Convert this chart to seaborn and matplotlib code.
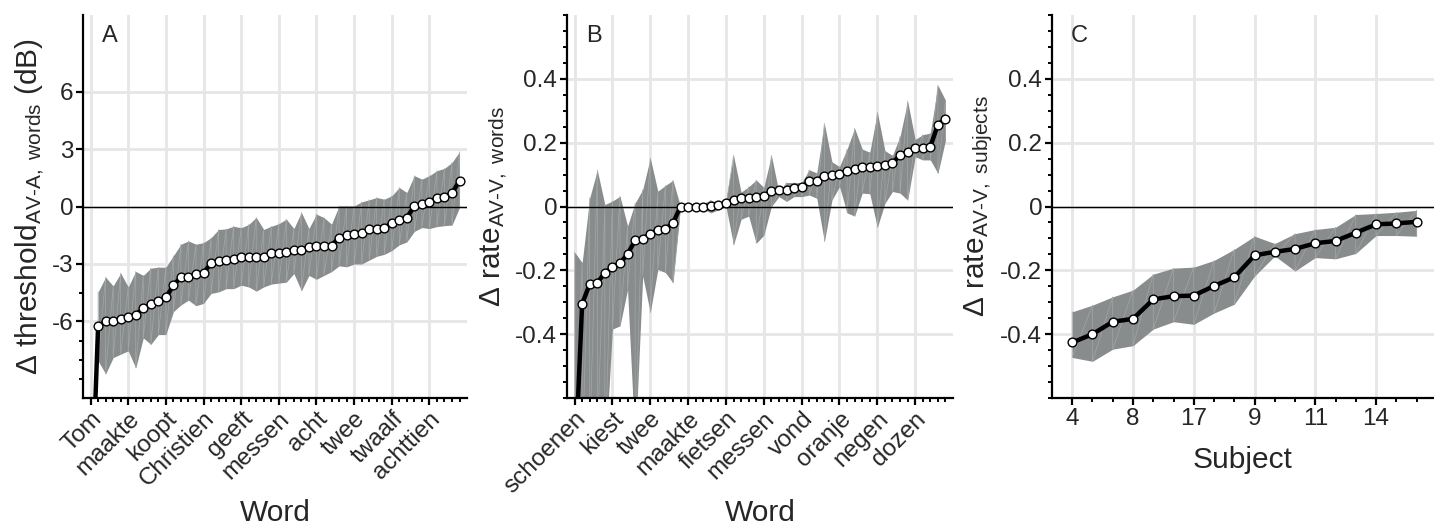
import numpy as np
import pandas as pd
import matplotlib
matplotlib.use("Agg")
import matplotlib.pyplot as plt
import seaborn as sns
from matplotlib.ticker import FixedLocator, MultipleLocator


# panel A: threshold difference per word (dB), sorted
a_mean = [-17.0, -6.25, -6.0, -6.0, -5.88, -5.78, -5.65, -5.32, -5.1, -4.92,
          -4.75, -4.12, -3.68, -3.67, -3.54, -3.48, -2.95, -2.86, -2.8, -2.74,
          -2.65, -2.65, -2.64, -2.63, -2.44, -2.41, -2.36, -2.29, -2.26, -2.1,
          -2.07, -2.07, -2.04, -1.63, -1.5, -1.46, -1.39, -1.19, -1.15, -1.13,
          -0.85, -0.7, -0.58, 0.02, 0.13, 0.24, 0.43, 0.52, 0.7, 1.35]
a_upper = [np.nan, -4.46, -3.69, -4.15, -3.48, -4.2, -3.39, -3.6, -3.22, -3.17,
           -3.17, -2.57, -1.97, -1.8, -1.97, -1.89, -1.63, -1.2, -1.17, -1.03,
           -1.11, -0.94, -0.57, -1.2, -1.03, -0.9, -0.66, -1.15, -0.31, -1.15,
           -0.4, -0.58, -0.92, 0.03, 0.03, 0.03, 0.24, 0.35, 0.47, 0.38,
           0.56, 0.99, 0.73, 1.61, 1.43, 1.61, 1.87, 1.99, 2.3, 2.86]
a_lower = [np.nan, -8.06, -8.74, -7.89, -7.71, -7.54, -8.43, -6.86, -7.2, -6.69,
           -6.69, -5.49, -5.14, -4.89, -5.18, -5.06, -4.54, -4.46, -4.29, -4.29,
           -4.11, -4.2, -4.42, -4.2, -4.05, -4.0, -3.95, -3.5, -4.4, -3.6,
           -3.8, -3.6, -3.4, -3.1, -3.15, -3.0, -3.0, -2.8, -2.6, -2.5,
           -2.3, -2.0, -1.85, -1.3, -1.1, -1.15, -1.05, -1.0, -0.97, -0.05]
a_labels = ["Tom", "maakte", "koopt", "Christien", "geeft", "messen", "acht",
            "twee", "twaalf", "achttien"]

# panel B: rate difference per word, sorted
b_mean = [-0.85, -0.305, -0.243, -0.239, -0.208, -0.19, -0.178, -0.149, -0.106, -0.102,
          -0.085, -0.075, -0.07, -0.052, 0.0, 0.0, 0.0, 0.0, 0.002, 0.004,
          0.011, 0.02, 0.027, 0.028, 0.029, 0.033, 0.048, 0.051, 0.053, 0.057,
          0.06, 0.079, 0.081, 0.096, 0.099, 0.103, 0.11, 0.116, 0.123, 0.123,
          0.128, 0.129, 0.136, 0.161, 0.17, 0.182, 0.184, 0.188, 0.256, 0.274]
b_upper = [-0.143, -0.176, 0.027, 0.114, 0.006, 0.017, 0.032, -0.061, 0.011, 0.053,
           0.152, 0.048, 0.066, 0.082, 0.0, 0.003, 0.005, 0.01, 0.02, 0.01,
           0.02, 0.16, 0.045, 0.062, 0.083, 0.06, 0.16, 0.045, 0.075, 0.075,
           0.075, 0.115, 0.105, 0.26, 0.14, 0.125, 0.18, 0.245, 0.18, 0.17,
           0.295, 0.175, 0.16, 0.22, 0.33, 0.21, 0.225, 0.23, 0.38, 0.333]
b_lower = [-0.75, -0.8, -0.75, -0.75, -0.8, -0.384, -0.374, -0.26, -0.75, -0.218,
           -0.332, -0.197, -0.207, -0.239, 0.0, -0.003, -0.005, -0.008, -0.02, -0.01,
           0.0, -0.12, -0.04, -0.03, -0.115, -0.09, 0.0, 0.031, 0.016, 0.031,
           0.031, 0.036, 0.026, -0.11, 0.02, 0.0625, -0.02, -0.03, 0.042, 0.04,
           -0.065, 0.01, 0.047, 0.042, 0.02, 0.156, 0.146, 0.146, 0.104, 0.208]
b_labels = ["schoenen", "kiest", "twee", "maakte", "fietsen", "messen", "vond",
            "oranje", "negen", "dozen"]

# panel C: rate difference per subject, sorted
c_mean = [-0.426, -0.4, -0.361, -0.352, -0.291, -0.281, -0.279, -0.249, -0.222,
          -0.153, -0.142, -0.133, -0.115, -0.108, -0.082, -0.056, -0.053, -0.048]
c_upper = [-0.33, -0.309, -0.283, -0.262, -0.212, -0.193, -0.19, -0.169, -0.134,
           -0.093, -0.116, -0.085, -0.072, -0.065, -0.025, -0.022, -0.018, -0.012]
c_lower = [-0.473, -0.485, -0.447, -0.436, -0.384, -0.361, -0.369, -0.334, -0.306,
           -0.218, -0.155, -0.202, -0.16, -0.164, -0.147, -0.091, -0.091, -0.093]
c_labels = ["4", "8", "17", "9", "11", "14"]

band = "#898c8c"
grid_c = "#e6e6e6"
TICK_FS = 17.5
LAB_FS = 21.5

sns.set_theme(style="white")
plt.rcParams["font.family"] = ["Liberation Sans", "DejaVu Sans"]
plt.rcParams["mathtext.fontset"] = "custom"
plt.rcParams["mathtext.rm"] = "Liberation Sans"
plt.rcParams["mathtext.it"] = "Liberation Sans:italic"
plt.rcParams["mathtext.default"] = "regular"
plt.rcParams["axes.unicode_minus"] = False


def draw(ax, mean, lo, hi):
    x = np.arange(len(mean))
    lo = np.array(lo, dtype=float)
    hi = np.array(hi, dtype=float)
    ax.fill_between(x, lo, hi, color=band, lw=0, zorder=1)
    # faint strip texture of the band
    ax.plot(np.repeat(x, 2), np.column_stack([hi, lo]).ravel(),
            color="#a4a7a7", lw=0.5, zorder=1.5)
    ax.axhline(0, color="black", lw=1, zorder=2)
    df = pd.DataFrame({"x": x, "y": mean})
    sns.lineplot(data=df, x="x", y="y", ax=ax, color="black", lw=3.2,
                 marker="o", markersize=6.3, markerfacecolor="white",
                 markeredgecolor="black", markeredgewidth=1, zorder=3)


def style(ax, n, step, xlabels, letter):
    ax.set_xlim(-1, n if step == 5 else n - 0.14)
    ax.xaxis.set_major_locator(FixedLocator(list(range(0, n, step))))
    ax.xaxis.set_minor_locator(FixedLocator(list(range(n))))
    ax.set_xticklabels(xlabels)
    ax.grid(True, which="major", color=grid_c, lw=2)
    ax.set_axisbelow(True)
    for s in ["top", "right"]:
        ax.spines[s].set_visible(False)
    for s in ["left", "bottom"]:
        ax.spines[s].set_linewidth(1.6)
        ax.spines[s].set_color("black")
    ax.tick_params(which="major", direction="out", length=5, width=1.6,
                   color="black", labelsize=TICK_FS, bottom=True, left=True, pad=2)
    ax.tick_params(which="minor", direction="out", length=3, width=1.4,
                   color="black", bottom=True, left=True)
    ax.text(0.05, 0.975, letter, transform=ax.transAxes, fontsize=17,
            ha="left", va="top")


fig = plt.figure(figsize=(14.34, 5.25), dpi=100)
axA = fig.add_axes([0.0579, 0.2419, 0.2678, 0.7295])
axB = fig.add_axes([0.3954, 0.2419, 0.2692, 0.7295])
axC = fig.add_axes([0.7336, 0.2419, 0.2664, 0.7295])

# A
draw(axA, a_mean, a_lower, a_upper)
style(axA, len(a_mean), 5, a_labels, "A")
axA.set_ylim(-10, 10)
axA.yaxis.set_major_locator(FixedLocator([-6, -3, 0, 3, 6]))
axA.yaxis.set_minor_locator(FixedLocator([-9, -8, -7, -4.5]))
axA.set_yticklabels(["-6", "-3", "0", "3", "6"])
axA.set_ylabel("Δ threshold$_{AV\u2010A,\\ words}$ (dB)", fontsize=LAB_FS)
axA.set_xlabel("Word", fontsize=LAB_FS)

# B
draw(axB, b_mean, b_lower, b_upper)
style(axB, len(b_mean), 5, b_labels, "B")
axB.set_ylim(-0.6, 0.6)
axB.yaxis.set_major_locator(FixedLocator([-0.4, -0.2, 0, 0.2, 0.4]))
axB.yaxis.set_minor_locator(MultipleLocator(0.05))
axB.set_yticklabels(["-0.4", "-0.2", "0", "0.2", "0.4"])
axB.set_ylabel("Δ rate$_{AV\u2010V,\\ words}$", fontsize=LAB_FS)
axB.set_xlabel("Word", fontsize=LAB_FS)

# C
draw(axC, c_mean, c_lower, c_upper)
style(axC, len(c_mean), 3, c_labels, "C")
axC.set_ylim(-0.6, 0.6)
axC.yaxis.set_major_locator(FixedLocator([-0.4, -0.2, 0, 0.2, 0.4]))
axC.yaxis.set_minor_locator(MultipleLocator(0.05))
axC.set_yticklabels(["-0.4", "-0.2", "0", "0.2", "0.4"])
axC.set_ylabel("Δ rate$_{AV\u2010V,\\ subjects}$", fontsize=LAB_FS)
axC.set_xlabel("Subject", fontsize=LAB_FS)

for ax in (axA, axB):
    plt.setp(ax.get_xticklabels(), rotation=45, ha="right",
             rotation_mode="anchor")
    ax.xaxis.set_label_coords(0.5, -0.265)
axC.xaxis.set_label_coords(0.5, -0.125)

fig.savefig("out.png", dpi=100)
